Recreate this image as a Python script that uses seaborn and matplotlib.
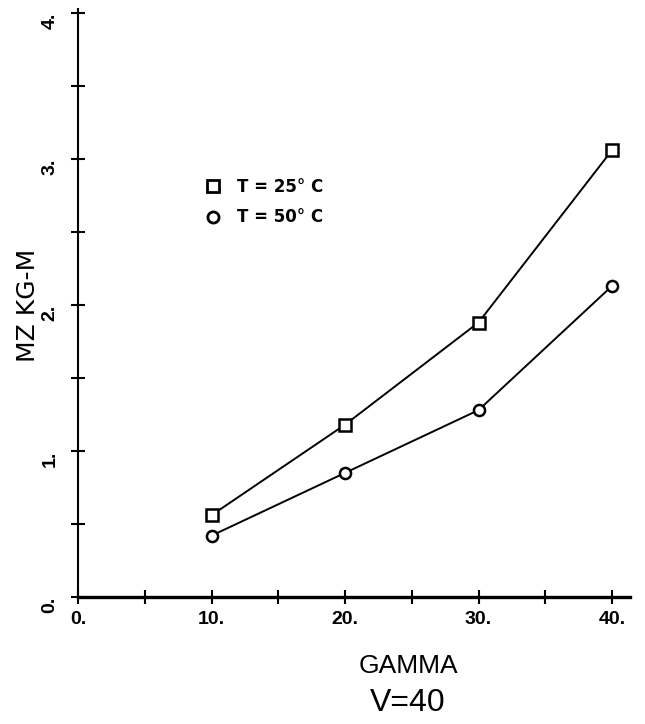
import numpy as np
import pandas as pd
import matplotlib.pyplot as plt
from matplotlib.lines import Line2D
from matplotlib.ticker import MultipleLocator, FuncFormatter
import seaborn as sns

sns.set_theme(style="white")
plt.rcParams['font.family'] = ['DejaVu Sans']
NARROW = ['Liberation Sans', 'DejaVu Sans']

# values
gamma = [10, 20, 30, 40]
mz_25 = [0.56, 1.18, 1.88, 3.06]
mz_50 = [0.42, 0.85, 1.28, 2.13]
series = ["T = 25° C", "T = 50° C"]

df = pd.DataFrame({
    "gamma": gamma * 2,
    "mz": mz_25 + mz_50,
    "series": [series[0]] * 4 + [series[1]] * 4,
})

W, H = 645, 724
fig = plt.figure(figsize=(W / 100, H / 100), dpi=100)
# x: 0 -> 78px, 40 -> 612px ; y: 0 -> 597px, 4 -> 13px
ax = fig.add_axes([78 / W, (H - 597) / H, 552 / W, 588 / H])

sns.lineplot(
    data=df, x="gamma", y="mz", style="series",
    markers={series[0]: "s", series[1]: "o"}, dashes=False,
    color="black", linewidth=1.4, markersize=8,
    markerfacecolor="white", markeredgecolor="black", markeredgewidth=1.8,
    legend=False, ax=ax,
)

ax.set_xlim(0, 552 / 13.35)
ax.set_ylim(0, 588 / 146)
sns.despine(ax=ax)
ax.spines["left"].set_linewidth(1.5)
ax.spines["bottom"].set_linewidth(2.4)
for s in ("left", "bottom"):
    ax.spines[s].set_color("black")

ax.xaxis.set_major_locator(MultipleLocator(10))
ax.xaxis.set_minor_locator(MultipleLocator(5))
ax.yaxis.set_major_locator(MultipleLocator(1))
ax.yaxis.set_minor_locator(MultipleLocator(0.5))
ax.xaxis.set_major_formatter(FuncFormatter(lambda v, p: f"{v:.0f}."))
ax.yaxis.set_major_formatter(FuncFormatter(lambda v, p: f"{v:.0f}."))
ax.tick_params(which="both", direction="inout", length=10, width=1.5,
               color="black", bottom=True, left=True)
ax.tick_params(axis="x", labelsize=14, pad=5)
ax.tick_params(axis="y", labelsize=14, pad=9, labelrotation=90)
for lab in ax.get_xticklabels() + ax.get_yticklabels():
    lab.set_fontweight("bold")
    lab.set_family(NARROW)
    lab.set_color("black")
for lab in ax.get_yticklabels():
    lab.set_va("top")

ax.set_xlabel("")
ax.set_ylabel("")
fig.text(28 / W, 1 - 305 / H, "MZ KG-M", rotation=90, fontsize=18,
         ha="center", va="center", color="black")
fig.text(408 / W, 1 - 666 / H, "GAMMA", fontsize=19, family=NARROW,
         ha="center", va="center", color="black")
fig.text(408 / W, 1 - 703 / H, "V=40", fontsize=23, family=NARROW,
         ha="center", va="center", color="black")

handles = [
    Line2D([], [], linestyle="none", marker="s", markersize=8,
           markerfacecolor="white", markeredgecolor="black", markeredgewidth=2.0),
    Line2D([], [], linestyle="none", marker="o", markersize=8,
           markerfacecolor="white", markeredgecolor="black", markeredgewidth=2.0),
]
leg = ax.legend(handles, series, loc="upper left",
                bbox_to_anchor=(205 / W, 1 - 178 / H),
                bbox_transform=fig.transFigure, frameon=False,
                borderpad=0, borderaxespad=0,
                handlelength=1.0, handletextpad=0.9, labelspacing=0.75,
                prop={"size": 12, "weight": "bold"})
for t in leg.get_texts():
    t.set_color("black")

fig.savefig("out.png", dpi=100)
